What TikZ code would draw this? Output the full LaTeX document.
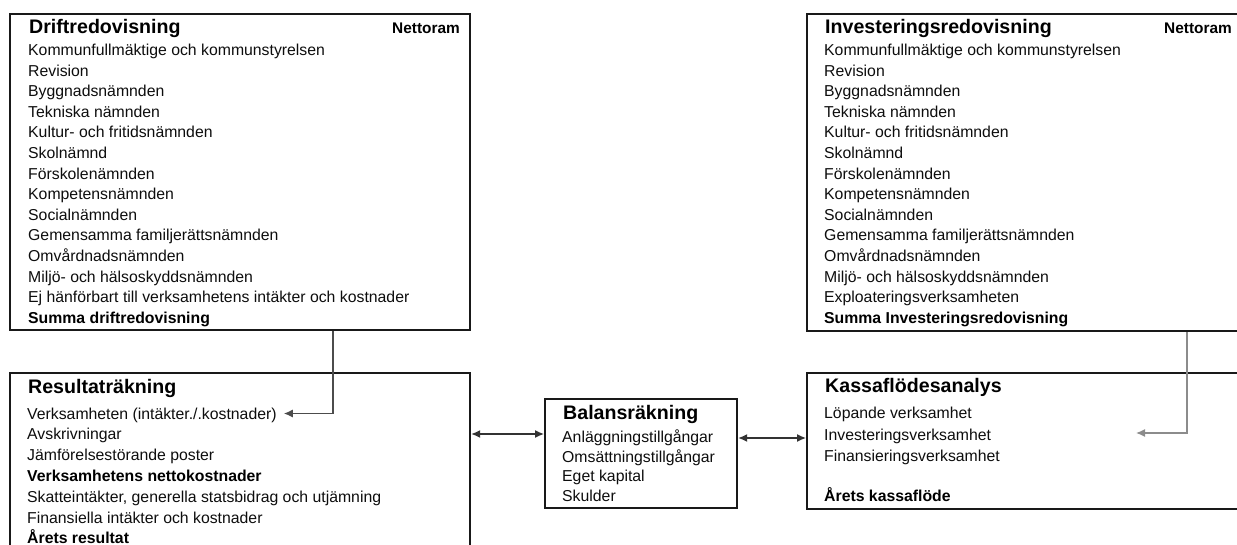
\documentclass[tikz,border=0pt]{standalone}
\usepackage{fontspec}
\setmainfont{Liberation Sans}
\usetikzlibrary{arrows.meta}
\begin{document}
\begin{tikzpicture}[x=1pt,y=-1pt,
  frame/.style={draw=black!90, line width=2.2pt, inner sep=0pt, anchor=north west},
  item/.style={anchor=west, inner sep=0pt, text height=11pt, text depth=0pt, font=\fontsize{15.8}{19}\selectfont, text=black!95},
  bitem/.style={item, font=\fontsize{15.8}{19}\selectfont\bfseries, text=black},
  ttl/.style={anchor=west, inner sep=0pt, text height=14pt, text depth=0pt, font=\fontsize{19.6}{23}\selectfont\bfseries},
  netto/.style={anchor=east, inner sep=0pt, text height=11pt, text depth=0pt, font=\fontsize{15.4}{18}\selectfont\bfseries},
  conn/.style={draw=black!70, line width=1.3pt},
  ctip/.style={-{Latex[length=9pt,width=8pt]}},
  dbl/.style={draw=black!80, line width=1.3pt, {Latex[length=9pt,width=8pt]}-{Latex[length=9pt,width=8pt]}},
]
\useasboundingbox (0,0) rectangle (1237,545);
\clip (0,0) rectangle (1237,545);

% frames
\node[frame, minimum width=460pt, minimum height=316pt] (drift) at (9,13) {};
\node[frame, minimum width=450pt, minimum height=317pt] (inv) at (806,13) {};
\node[frame, minimum width=460pt, minimum height=250pt] (res) at (9,372) {};
\node[frame, minimum width=192pt, minimum height=109pt] (bal) at (544,398) {};
\node[frame, minimum width=450pt, minimum height=136pt] (kas) at (806,372) {};

% Driftredovisning
\node[ttl] (dt) at (29,27) {Driftredovisning};
\node[netto] (dn) at (460,28) {Nettoram};
\foreach \t [count=\i] in {Kommunfullmäktige och kommunstyrelsen, Revision, Byggnadsnämnden, Tekniska nämnden, Kultur- och fritidsnämnden, Skolnämnd, Förskolenämnden, Kompetensnämnden, Socialnämnden, Gemensamma familjerättsnämnden, Omvårdnadsnämnden, Miljö- och hälsoskyddsnämnden, Ej hänförbart till verksamhetens intäkter och kostnader}
  \node[item] (d\i) at (28,{50+20.6*(\i-1)}) {\t};
\node[bitem] (ds) at (28,317.8) {Summa driftredovisning};

% Investeringsredovisning
\node[ttl] (it) at (825,27) {Investeringsredovisning};
\node[netto] (in) at (1232,28) {Nettoram};
\foreach \t [count=\i] in {Kommunfullmäktige och kommunstyrelsen, Revision, Byggnadsnämnden, Tekniska nämnden, Kultur- och fritidsnämnden, Skolnämnd, Förskolenämnden, Kompetensnämnden, Socialnämnden, Gemensamma familjerättsnämnden, Omvårdnadsnämnden, Miljö- och hälsoskyddsnämnden, Exploateringsverksamheten}
  \node[item] (i\i) at (824,{50+20.6*(\i-1)}) {\t};
\node[bitem] (is) at (824,317.8) {Summa Investeringsredovisning};

% Resultaträkning
\node[ttl] (rt) at (28,386) {Resultaträkning};
\node[item] (r1) at (27,413.5) {Verksamheten (intäkter./.kostnader)};
\node[item] (r2) at (27,434.3) {Avskrivningar};
\node[item] (r3) at (27,455.1) {Jämförelsestörande poster};
\node[bitem] (r4) at (27,475.9) {Verksamhetens nettokostnader};
\node[item] (r5) at (27,496.7) {Skatteintäkter, generella statsbidrag och utjämning};
\node[item] (r6) at (27,517.5) {Finansiella intäkter och kostnader};
\node[bitem] (r7) at (27,538.3) {Årets resultat};

% Balansräkning
\node[ttl] (bt) at (563,412) {Balansräkning};
\node[item] (b1) at (562,437) {Anläggningstillgångar};
\node[item] (b2) at (562,456.7) {Omsättningstillgångar};
\node[item] (b3) at (562,476.4) {Eget kapital};
\node[item] (b4) at (562,496.1) {Skulder};

% Kassaflödesanalys
\node[ttl] (kt) at (825,385) {Kassaflödesanalys};
\node[item] (k1) at (824,413) {Löpande verksamhet};
\node[item] (k2) at (824,435) {Investeringsverksamhet};
\node[item] (k3) at (824,456) {Finansieringsverksamhet};
\node[bitem] (k4) at (824,496) {Årets kassaflöde};

% connectors
\coordinate (dx) at (333,0);
\coordinate (ix) at (1187,0);
\coordinate (kin) at (1136,433);
\coordinate (ya) at (0,434);
\coordinate (yb) at (0,438);
\draw[conn, ctip] (drift.south -| dx) |- ([xshift=7pt]r1.east);
\draw[conn, draw=black!45, ctip] (inv.south -| ix) |- (kin);
\draw[dbl] (res.east |- ya) -- (bal.west |- ya);
\draw[dbl] (bal.east |- yb) -- (kas.west |- yb);
\end{tikzpicture}
\end{document}
